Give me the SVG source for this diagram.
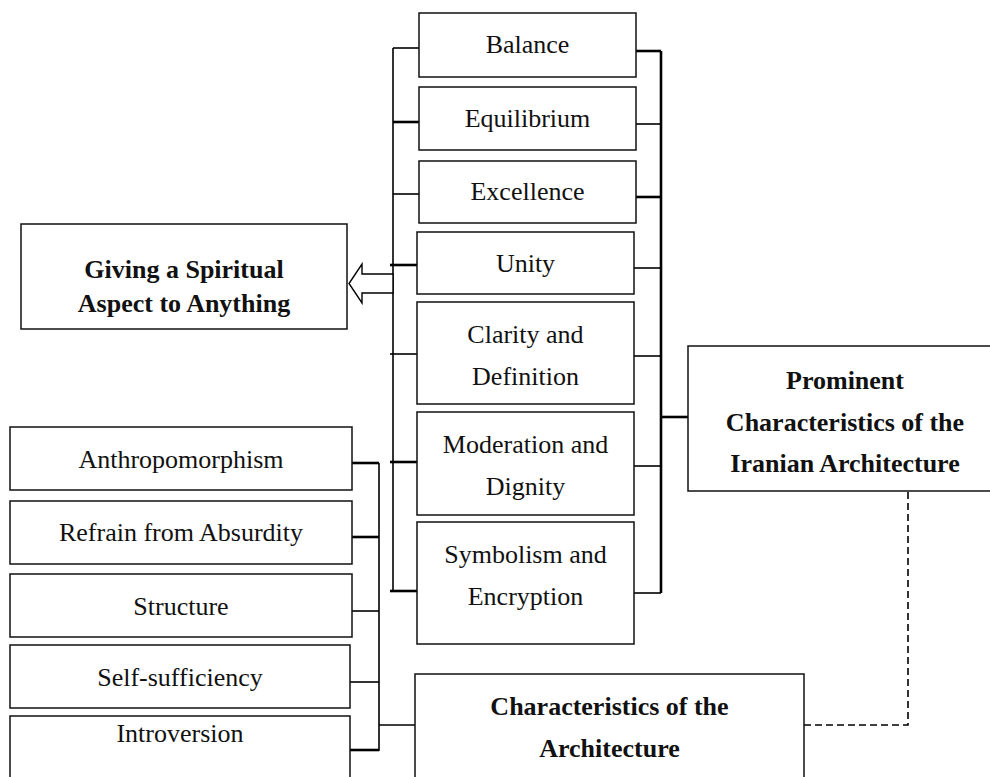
<svg xmlns="http://www.w3.org/2000/svg" width="990" height="777" viewBox="0 0 990 777">
<style>
.box{fill:#fff;stroke:#111;stroke-width:1.5}
.t{font-family:"Liberation Serif","Times New Roman",serif;font-size:26px;fill:#111;text-anchor:middle}
.b{font-weight:bold}
.c{fill:none;stroke:#000;stroke-width:1.6}
.k{fill:none;stroke:#000;stroke-width:2.6}
.d{fill:none;stroke:#000;stroke-width:1.6;stroke-dasharray:7 4}
</style>
<rect width="990" height="777" fill="#fff"/>
<g id="connectors">
<path class="c" d="M393 48V591"/>
<path class="c" d="M393 48H419"/>
<path class="k" d="M393 122H419"/>
<path class="c" d="M393 194H419"/>
<path class="k" d="M390 265H417"/>
<path class="c" d="M390 354H417"/>
<path class="k" d="M390 462H417"/>
<path class="k" d="M390 591H417"/>
<path class="k" d="M661 51V593"/>
<path class="k" d="M636 51H661"/>
<path class="c" d="M636 124H661"/>
<path class="k" d="M636 197H661"/>
<path class="c" d="M634 268H661"/>
<path class="c" d="M634 356H661"/>
<path class="c" d="M634 466H661"/>
<path class="c" d="M634 593H661"/>
<path class="k" d="M661 417H688"/>
<polygon points="393,274 362,274 362,264 349,283.5 362,303 362,293 393,293" fill="#fff" stroke="#000" stroke-width="1.4"/>
<path class="c" d="M379 463V751"/>
<path class="k" d="M352 463H379"/>
<path class="k" d="M352 537H379"/>
<path class="c" d="M352 611H379"/>
<path class="c" d="M350 682H379"/>
<path class="k" d="M350 750H379"/>
<path class="c" d="M379 725H415"/>
<path class="d" d="M804 725H908V491"/>
</g>
<g id="balance"><rect class="box" x="419" y="13" width="217" height="64"/><text class="t" x="527.5" y="53">Balance</text></g>
<g id="equilibrium"><rect class="box" x="419" y="87" width="217" height="63"/><text class="t" x="527.5" y="127">Equilibrium</text></g>
<g id="excellence"><rect class="box" x="419" y="161" width="217" height="62"/><text class="t" x="527.5" y="200">Excellence</text></g>
<g id="unity"><rect class="box" x="417" y="232" width="217" height="62"/><text class="t" x="525.5" y="272">Unity</text></g>
<g id="clarity"><rect class="box" x="417" y="302" width="217" height="102"/><text class="t" x="525.5" y="343">Clarity and</text><text class="t" x="525.5" y="385">Definition</text></g>
<g id="moderation"><rect class="box" x="417" y="412" width="217" height="103"/><text class="t" x="525.5" y="453">Moderation and</text><text class="t" x="525.5" y="495">Dignity</text></g>
<g id="symbolism"><rect class="box" x="417" y="522" width="217" height="122"/><text class="t" x="525.5" y="563">Symbolism and</text><text class="t" x="525.5" y="605">Encryption</text></g>
<g id="spiritual"><rect class="box" x="21" y="224" width="326" height="105"/><text class="t b" x="184" y="278">Giving a Spiritual</text><text class="t b" x="184" y="312">Aspect to Anything</text></g>
<g id="prominent"><rect class="box" x="688" y="346" width="316" height="145"/><text class="t b" x="845" y="389">Prominent</text><text class="t b" x="845" y="431">Characteristics of the</text><text class="t b" x="845" y="472">Iranian Architecture</text></g>
<g id="anthropomorphism"><rect class="box" x="10" y="427" width="342" height="63"/><text class="t" x="181" y="468">Anthropomorphism</text></g>
<g id="refrain"><rect class="box" x="10" y="501" width="342" height="63"/><text class="t" x="181" y="541">Refrain from Absurdity</text></g>
<g id="structure"><rect class="box" x="10" y="574" width="342" height="63"/><text class="t" x="181" y="615">Structure</text></g>
<g id="self-sufficiency"><rect class="box" x="10" y="645" width="340" height="63"/><text class="t" x="180" y="686">Self-sufficiency</text></g>
<g id="introversion"><rect class="box" x="10" y="716" width="340" height="70"/><text class="t" x="180" y="742">Introversion</text></g>
<g id="characteristics"><rect class="box" x="415" y="674" width="389" height="110"/><text class="t b" x="609.5" y="715">Characteristics of the</text><text class="t b" x="609.5" y="757">Architecture</text></g>
</svg>
